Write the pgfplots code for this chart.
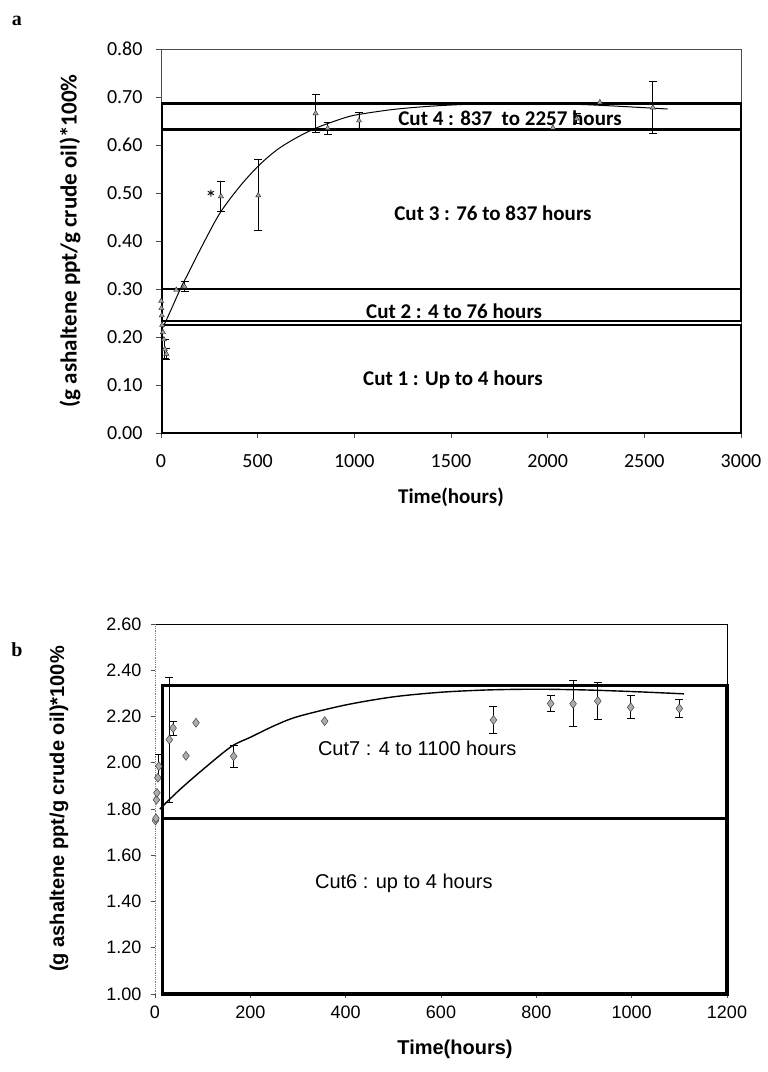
\documentclass[border=0pt]{standalone}
\usepackage{pgfplots}
\pgfplotsset{compat=1.18}
\usepackage{pgfplotstable}
\usepackage{fontspec}
\setmainfont{Liberation Serif}
\newfontfamily\carl{Carlito}
\newfontfamily\ari{Liberation Sans}

% Panel a: points without error bars
\pgfplotstableread{
t v
1 0.275
2 0.26
4 0.245
6 0.225
10 0.21
15 0.195
79 0.298
2027 0.636
2270 0.689
}\apts
% Panel a: points with error bars
\pgfplotstableread{
t v e
20 0.175 0.02
28 0.165 0.012
122 0.305 0.011
310 0.493 0.031
503 0.495 0.074
800 0.666 0.04
862 0.635 0.013
1024 0.651 0.016
2150 0.655 0.01
2544 0.678 0.054
}\aerr
% Panel b: points without error bars
\pgfplotstableread{
t v
1 1.75
2 1.76
3 1.84
4 1.87
6 1.935
65 2.03
86 2.173
356 2.18
}\bpts
% Panel b: points with error bars
\pgfplotstableread{
t v e
8 1.985 0.05
30 2.10 0.27
38 2.15 0.03
165 2.028 0.047
710 2.185 0.06
830 2.256 0.034
877 2.255 0.10
929 2.267 0.08
998 2.24 0.05
1100 2.235 0.04
}\berr

\begin{document}
\begin{tikzpicture}
\path[use as bounding box] (0pt,0pt) rectangle (768pt,-1072pt);
\node[font=\bfseries\fontsize{20}{24}\selectfont] at (17pt,-21pt) {a};
\node[font=\bfseries\fontsize{20}{24}\selectfont] at (17pt,-650pt) {b};

% ---------------- Panel a ----------------
\begin{axis}[
  at={(161pt,-433pt)}, anchor=south west,
  scale only axis, width=580pt, height=384pt,
  xmin=0, xmax=3000, ymin=0, ymax=0.8,
  xtick={0,500,1000,1500,2000,2500,3000},
  ytick={0,0.1,0.2,0.3,0.4,0.5,0.6,0.7,0.8},
  clip=false,
  axis line style={line width=0.6pt, gray!60!black},
  tick pos=left, tick align=outside, major tick length=5pt,
  tick style={line width=0.6pt, gray!60!black},
  scaled ticks=false,
  /pgf/number format/assume math mode=true,
  tick label style={font=\carl\fontsize{20}{24}\selectfont},
  yticklabel style={xshift=-10pt, /pgf/number format/.cd, fixed, fixed zerofill, precision=2},
  xticklabel style={yshift=-13pt, /pgf/number format/.cd, fixed, 1000 sep={}},
  xlabel={Time(hours)},
  xlabel style={font=\carl\bfseries\fontsize{21}{25}\selectfont, at={(axis description cs:0.5,0)}, anchor=center, yshift=-64pt},
  ylabel={(g ashaltene ppt/g crude oil)*100\%},
  ylabel style={font=\carl\bfseries\fontsize{23}{27}\selectfont, at={(axis description cs:-0.157,0.5)}, anchor=center},
]
% cut boxes
\addplot[line width=2.5pt, line join=miter, forget plot] coordinates {(5,0) (3000,0) (3000,0.225) (5,0.225)} -- cycle;
\addplot[line width=2.5pt, line join=miter, forget plot] coordinates {(5,0.233) (3000,0.233) (3000,0.30) (5,0.30)} -- cycle;
\addplot[line width=2.5pt, line join=miter, forget plot] coordinates {(5,0.30) (3000,0.30) (3000,0.632) (5,0.632)} -- cycle;
\addplot[line width=2.5pt, line join=miter, forget plot] coordinates {(5,0.632) (3000,0.632) (3000,0.686) (5,0.686)} -- cycle;
% trend curve
\addplot[smooth, black, line width=1pt, no marks] coordinates {
(10,0.22) (50,0.255) (100,0.30) (150,0.34) (200,0.38) (300,0.455) (400,0.51)
(500,0.555) (600,0.59) (700,0.615) (800,0.635) (900,0.65) (1000,0.662)
(1200,0.674) (1400,0.681) (1600,0.685) (1800,0.686) (2000,0.686) (2200,0.684)
(2400,0.68) (2620,0.675)};
% data
\addplot[only marks, mark=triangle*, mark size=3pt, fill=gray!70, draw=gray!30!black]
  table[x=t, y=v] {\apts};
\addplot[only marks, mark=triangle*, mark size=3pt, fill=gray!70, draw=gray!30!black,
  error bars/.cd, y dir=both, y explicit,
  error bar style={black, line width=0.9pt},
  error mark options={rotate=90, black, line width=0.9pt, mark size=4pt}]
  table[x=t, y=v, y error=e] {\aerr};
\addplot[only marks, mark=asterisk, mark size=3.5pt, draw=gray!20!black, line width=1pt]
  coordinates {(258,0.50)};
% labels
\node[font=\carl\bfseries\fontsize{21}{25}\selectfont] at (axis cs:1805,0.656) {Cut 4 : 837\ \ to 2257 hours};
\node[font=\carl\bfseries\fontsize{21}{25}\selectfont] at (axis cs:1717,0.458) {Cut 3 : 76 to 837 hours};
\node[font=\carl\bfseries\fontsize{21}{25}\selectfont] at (axis cs:1516,0.254) {Cut 2 : 4 to 76 hours};
\node[font=\carl\bfseries\fontsize{21}{25}\selectfont] at (axis cs:1510,0.11) {Cut 1 : Up to 4 hours};
\end{axis}

% ---------------- Panel b ----------------
\begin{axis}[
  at={(155pt,-994pt)}, anchor=south west,
  scale only axis, width=572pt, height=370pt,
  xmin=0, xmax=1200, ymin=1, ymax=2.6,
  xtick={0,200,400,600,800,1000,1200},
  ytick={1,1.2,1.4,1.6,1.8,2.0,2.2,2.4,2.6},
  clip=false,
  axis line style={draw=none},
  tick pos=left, tick align=outside, major tick length=4pt,
  tick style={line width=0.6pt, gray!60!black},
  scaled ticks=false,
  /pgf/number format/assume math mode=true,
  tick label style={font=\ari\fontsize{18}{22}\selectfont},
  yticklabel style={xshift=-6pt, /pgf/number format/.cd, fixed, fixed zerofill, precision=2},
  xticklabel style={yshift=-4pt, /pgf/number format/.cd, fixed, 1000 sep={}},
  xlabel={Time(hours)},
  xlabel style={font=\ari\bfseries\fontsize{20}{24}\selectfont, at={(axis description cs:0.5,0)}, anchor=center, yshift=-55pt, xshift=14pt},
  ylabel={(g ashaltene ppt/g crude oil)*100\%},
  ylabel style={font=\ari\bfseries\fontsize{20}{24}\selectfont, at={(axis description cs:-0.168,0.5)}, anchor=center},
]
\draw[line width=0.8pt] (rel axis cs:0,1) -- (rel axis cs:1,1) -- (rel axis cs:1,0);
\draw[densely dotted, gray, line width=0.8pt] (rel axis cs:0,0) -- (rel axis cs:0,1);
% cut boxes
\addplot[line width=3.2pt, line join=miter, forget plot] coordinates {(15,1.0) (1200,1.0) (1200,1.76) (15,1.76)} -- cycle;
\addplot[line width=3.2pt, line join=miter, forget plot] coordinates {(15,1.76) (1200,1.76) (1200,2.335) (15,2.335)} -- cycle;
% trend curve
\addplot[smooth, black, line width=1.4pt, no marks] coordinates {
(10,1.80) (50,1.88) (100,1.97) (160,2.07) (200,2.11) (250,2.16) (300,2.20)
(400,2.25) (500,2.285) (600,2.305) (700,2.315) (800,2.318) (900,2.315)
(1000,2.308) (1110,2.298)};
% data
\addplot[only marks, mark=diamond*, mark size=4.5pt, fill=gray!65, draw=gray!35!black]
  table[x=t, y=v] {\bpts};
\addplot[only marks, mark=diamond*, mark size=4.5pt, fill=gray!65, draw=gray!35!black,
  error bars/.cd, y dir=both, y explicit,
  error bar style={black, line width=1pt},
  error mark options={rotate=90, black, line width=1pt, mark size=4pt}]
  table[x=t, y=v, y error=e] {\berr};
% labels
\node[font=\ari\fontsize{20}{24}\selectfont] at (axis cs:550,2.064) {Cut7 : 4 to 1100 hours};
\node[font=\ari\fontsize{20}{24}\selectfont] at (axis cs:522,1.478) {Cut6 : up to 4 hours};
\end{axis}
\end{tikzpicture}
\end{document}
